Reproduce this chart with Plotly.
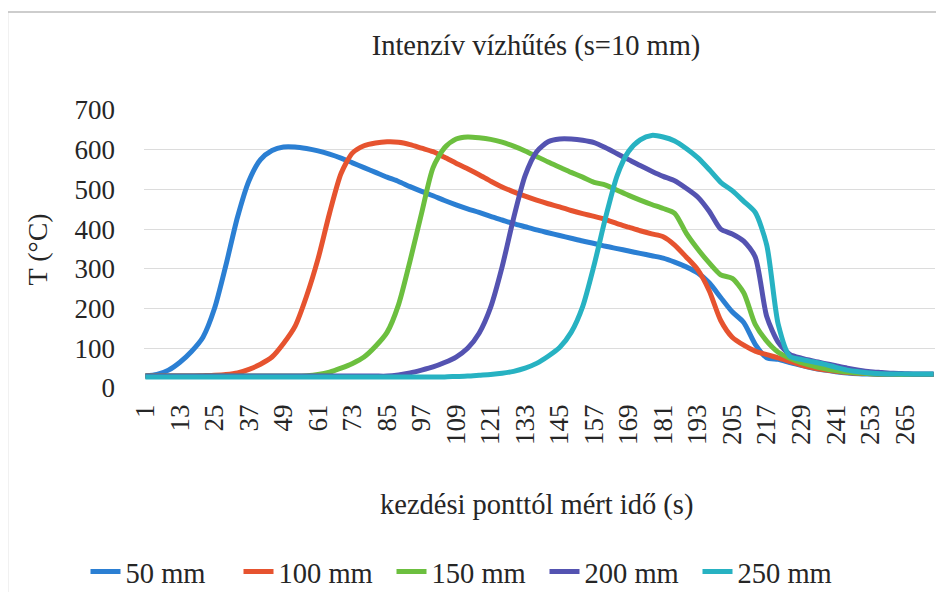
import plotly.graph_objects as go

# sample times (s) along the category axis
time_s = [1, 5, 9, 13, 17, 21, 25, 29, 33, 37, 41, 45, 49, 53, 57, 61, 65, 69, 73, 77,
          81, 85, 89, 93, 97, 101, 105, 109, 113, 117, 121, 125, 129, 133, 137, 141, 145, 149, 153, 157,
          161, 165, 169, 173, 177, 181, 185, 189, 193, 197, 201, 205, 209, 213, 217, 221, 225, 229, 233, 237,
          241, 245, 249, 253, 257, 261, 265, 269, 273, 275]

t_50 = [30, 34, 45, 65, 92, 128, 200, 310, 430, 522,
        575, 598, 607, 607, 603, 597, 589, 579, 567, 555,
        543, 531, 520, 507, 495, 484, 472, 461, 451, 442,
        432, 423, 414, 406, 398, 391, 384, 377, 370, 364,
        357, 351, 345, 339, 333, 327, 317, 305, 290, 265,
        228, 192, 165, 110, 76, 72, 64, 57, 50, 45,
        41, 38, 36, 35, 34, 34, 34, 34, 34, 34]

t_100 = [30, 30, 30, 30, 30, 31, 32, 34, 38, 47,
         60, 78, 112, 155, 231, 325, 440, 540, 592, 610,
         617, 620, 619, 613, 604, 595, 581, 566, 552, 537,
         521, 506, 494, 483, 473, 464, 456, 447, 439, 432,
         424, 414, 405, 396, 388, 381, 360, 330, 298, 245,
         170, 128, 108, 93, 84, 76, 67, 58, 51, 46,
         42, 39, 37, 36, 35, 35, 34, 34, 34, 34]

t_150 = [30, 30, 30, 30, 30, 30, 30, 30, 30, 30,
         30, 30, 30, 30, 31, 34, 40, 50, 62, 78,
         105, 140, 210, 320, 440, 555, 605, 627, 632, 630,
         626, 619, 609, 597, 583, 569, 556, 543, 531, 518,
         511, 498, 485, 473, 462, 452, 440, 390, 350, 315,
         285, 276, 240, 160, 118, 90, 75, 64, 56, 49,
         44, 40, 38, 36, 35, 35, 34, 34, 34, 34]

t_200 = [30, 30, 30, 30, 30, 30, 30, 30, 30, 30,
         30, 30, 30, 30, 30, 30, 30, 30, 30, 30,
         30, 30, 33, 38, 45, 53, 64, 78, 100, 138,
         203, 305, 428, 535, 595, 620, 627, 627, 624, 618,
         605, 590, 575, 560, 546, 533, 522, 503, 481, 445,
         400, 388, 370, 330, 180, 115, 85, 75, 68, 62,
         56, 50, 45, 41, 39, 37, 36, 35, 35, 35]

t_250 = [28, 28, 28, 28, 28, 28, 28, 28, 28, 28,
         28, 28, 28, 28, 28, 28, 28, 28, 28, 28,
         28, 28, 28, 28, 28, 28, 28, 29, 30, 32,
         34, 37, 42, 50, 62, 80, 102, 140, 205, 310,
         430, 535, 596, 625, 636, 632, 622, 603, 580, 550,
         518, 497, 470, 442, 360, 160, 80, 72, 66, 60,
         52, 45, 41, 38, 36, 35, 35, 35, 35, 35]

series_names = ["50 mm", "100 mm", "150 mm", "200 mm", "250 mm"]
series_values = [t_50, t_100, t_150, t_200, t_250]
series_colors = ["#2b7fd3", "#e6532f", "#6cbf3f", "#5453b1", "#27b2c2"]

x_ticks = [1, 13, 25, 37, 49, 61, 73, 85, 97, 109, 121, 133, 145, 157, 169, 181,
           193, 205, 217, 229, 241, 253, 265]
y_ticks = [0, 100, 200, 300, 400, 500, 600, 700]

FONT = "Liberation Serif"
TXT = "#262626"

# the page body has an 8px default margin: work in screen pixels, shift by OFF
OFF = 8
W, H = 944 - OFF, 592 - OFF
plot_left, plot_right, plot_top, plot_bottom = 143.6, 935, 110, 388   # screen px
ml = plot_left - OFF
mr = W - (plot_right - OFF)
mt = plot_top - OFF
mb = H - (plot_bottom - OFF)
pw = W - ml - mr
ph = H - mt - mb


def px_x(p):
    return (p - OFF - ml) / pw


def px_y(p):
    return (H - mb - (p - OFF)) / ph


fig = go.Figure()
for name, vals, col in zip(series_names, series_values, series_colors):
    fig.add_trace(go.Scatter(
        x=time_s, y=vals, name=name, mode="lines",
        line=dict(color=col, width=5, shape="spline", smoothing=0.7),
    ))

fig.update_layout(
    width=W, height=H,
    margin=dict(l=ml, r=mr, t=mt, b=mb, autoexpand=False),
    paper_bgcolor="white", plot_bgcolor="white",
    font=dict(family=FONT, size=27, color=TXT),
    title=dict(text="Intenzív vízhűtés (s=10 mm)",
               x=(536 - OFF) / W, xref="container",
               y=1 - (45 - OFF) / H, yref="container",
               xanchor="center", yanchor="middle",
               font=dict(family=FONT, size=28.5, color=TXT)),
    showlegend=True,
    legend=dict(orientation="h", xref="container", yref="container",
                x=(468 - OFF) / W, y=1 - (572 - OFF) / H,
                xanchor="center", yanchor="middle",
                font=dict(family=FONT, size=28.5, color=TXT),
                itemwidth=30, entrywidth=108, tracegroupgap=0,
                bgcolor="rgba(0,0,0,0)"),
    xaxis=dict(range=[0.5, 275.5], tickmode="array", tickvals=x_ticks,
               ticktext=[str(v) for v in x_ticks], tickangle=-90,
               showgrid=False, zeroline=False, showline=False, ticks="",
               ticklabelstandoff=10, tickfont=dict(family=FONT, size=27, color=TXT)),
    yaxis=dict(range=[0, 700], tickmode="array", tickvals=y_ticks,
               showgrid=True, gridcolor="#dcdcdc", gridwidth=1, zeroline=False,
               showline=False, ticks="", ticklabelstandoff=28,
               tickfont=dict(family=FONT, size=27, color=TXT)),
)

fig.add_annotation(text="T (°C)", textangle=-90, showarrow=False,
                   xref="paper", yref="paper", x=px_x(37), y=px_y(249),
                   xanchor="center", yanchor="middle",
                   font=dict(family=FONT, size=28, color=TXT))
fig.add_annotation(text="kezdési ponttól mért idő (s)", showarrow=False,
                   xref="paper", yref="paper", x=px_x(536), y=px_y(505),
                   xanchor="center", yanchor="middle",
                   font=dict(family=FONT, size=28.5, color=TXT))

# chart-area border
fig.add_shape(type="line", xref="paper", yref="paper",
              x0=px_x(7), x1=px_x(7), y0=px_y(600), y1=px_y(12),
              line=dict(color="#bdbdbd", width=1.5))
fig.add_shape(type="line", xref="paper", yref="paper",
              x0=px_x(7), x1=px_x(950), y0=px_y(12), y1=px_y(12),
              line=dict(color="#bdbdbd", width=1.5))

fig.write_html("out.html")
